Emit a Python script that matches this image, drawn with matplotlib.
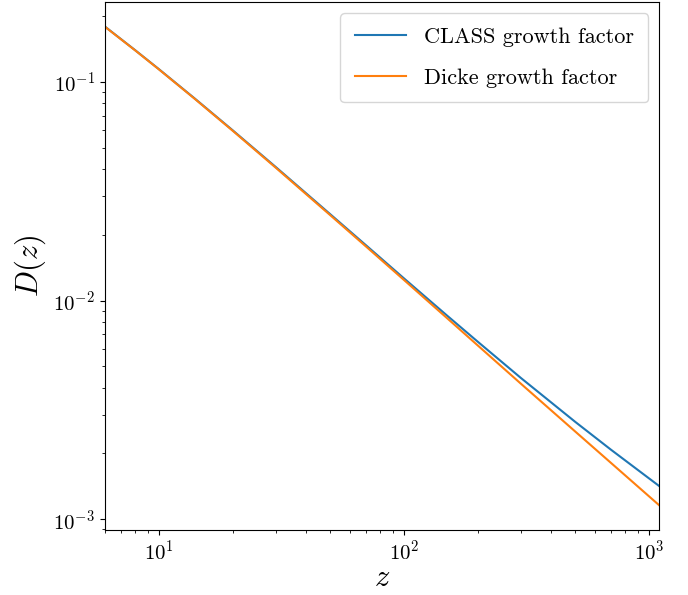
import matplotlib
matplotlib.use("Agg")
import matplotlib.pyplot as plt

plt.rcParams["font.family"] = "serif"
plt.rcParams["font.serif"] = ["cmr10", "DejaVu Serif"]
plt.rcParams["mathtext.fontset"] = "cm"
plt.rcParams["axes.formatter.use_mathtext"] = True

# Redshift samples and linear growth factors
z = [6, 8, 10, 14, 20, 30, 50, 70, 100, 150, 200, 300, 500, 700, 1100]
D_class = [0.1797, 0.1397, 0.1144, 0.0840, 0.0601, 0.0408, 0.02485, 0.01791,
           0.01264, 0.00854, 0.00649, 0.00443, 0.00279, 0.00208, 0.00142]
D_dicke = [0.1793, 0.1394, 0.1141, 0.0837, 0.0598, 0.0405, 0.0246, 0.01768,
           0.01243, 0.00831, 0.00624, 0.00417, 0.00252, 0.00181, 0.00116]

fig = plt.figure(figsize=(6.88, 5.95), dpi=100)
ax = fig.add_axes([0.152, 0.1092, 0.806, 0.8874])

ax.loglog(z, D_class, color="tab:blue", lw=1.5, label="CLASS growth factor")
ax.loglog(z, D_dicke, color="tab:orange", lw=1.5, label="Dicke growth factor")

ax.set_xlim(6, 1100)
ax.set_ylim(8.93e-4, 0.232)
ax.set_xlabel(r"$z$", fontsize=22, labelpad=0)
ax.set_ylabel(r"$D(z)$", fontsize=22)
ax.tick_params(labelsize=15)
ax.legend(loc="upper right", fontsize=16, labelspacing=0.95,
          borderpad=0.65, handlelength=2.3)

fig.savefig("out.png", dpi=100)
